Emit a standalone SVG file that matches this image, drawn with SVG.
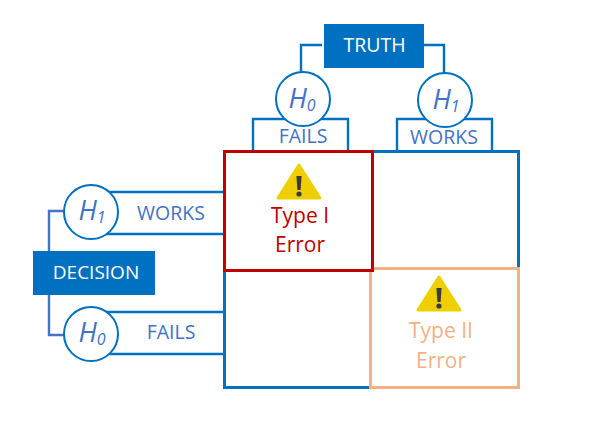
<svg xmlns="http://www.w3.org/2000/svg" width="589" height="448" viewBox="0 0 589 448">
<style>
text{font-family:"Open Sans","Noto Sans","DejaVu Sans",sans-serif;text-anchor:middle}
.b{fill:none;stroke:#0070c0;stroke-width:2.400}
.g{fill:#fff;stroke:#0070c0;stroke-width:2}
.box{fill:#0070c0}
.w{fill:#fff;font-size:19px}
.l{fill:#4472c4;font-size:19.500px}
.h{fill:#4472c4;font-size:27px;font-style:italic}
.s{font-size:16px}
.e{font-size:21px}
</style>
<defs>
<g id="warn"><path d="M0 0L21 33H-21Z" fill="#f0cf00" stroke="#f0cf00" stroke-width="3" stroke-linejoin="round"/><path d="M-2.600 11H2.600L1.600 25H-1.600Z" fill="#3a3a3a"/><circle cy="29" r="2.600" fill="#3a3a3a"/></g>
</defs>
<rect width="589" height="448" fill="#fff"/>
<g id="connectors">
<path class="b" d="M322 45H301V74"/>
<path class="b" d="M424 45H444V74"/>
<path class="b" d="M253 150V119H348V150"/>
<path class="b" d="M397 150V119H492V150"/>
<path d="M64 211H49V251M49 295V335H64" fill="none" stroke="#4472c4" stroke-width="2.400"/>
<path class="b" d="M105 192H224M105 234H224M105 312H224M105 354H224"/>
</g>
<g id="grid"><rect x="224.500" y="151.500" width="294" height="236" fill="none" stroke="#0070c0" stroke-width="3"/></g>
<g id="truth"><rect class="box" x="324" y="24" width="100" height="44"/><text class="w" x="374.500" y="52" style="font-size:19.500px">TRUTH</text></g>
<g id="truth-h0"><circle class="g" cx="303" cy="99" r="27"/><text class="h" x="302" y="108">H<tspan class="s" dy="3">0</tspan></text></g>
<g id="truth-h1"><circle class="g" cx="445" cy="100" r="27"/><text class="h" x="446" y="109">H<tspan class="s" dy="3">1</tspan></text></g>
<g id="fails-top"><text class="l" x="303" y="143">FAILS</text></g>
<g id="works-top"><text class="l" x="444" y="144">WORKS</text></g>
<g id="decision"><rect class="box" x="33" y="251" width="122" height="44"/><text class="w" x="96" y="279">DECISION</text></g>
<g id="decision-h1"><circle class="g" cx="91" cy="212" r="27"/><text class="h" x="92" y="220">H<tspan class="s" dy="3">1</tspan></text></g>
<g id="decision-h0"><circle class="g" cx="91" cy="334" r="27"/><text class="h" x="92" y="342">H<tspan class="s" dy="3">0</tspan></text></g>
<g id="works-left"><text class="l" x="171" y="220">WORKS</text></g>
<g id="fails-left"><text class="l" x="171" y="339">FAILS</text></g>
<g id="type2"><rect x="370.500" y="268.500" width="148" height="119" fill="#fff" stroke="#f4b183" stroke-width="3"/><use href="#warn" x="439" y="277"/><text class="e" x="441" y="338" fill="#f4b183">Type II</text><text class="e" x="441" y="368" fill="#f4b183">Error</text></g>
<g id="type1"><rect x="224.500" y="151.500" width="148" height="119" fill="#fff" stroke="#c00000" stroke-width="3"/><use href="#warn" x="299" y="165"/><text class="e" x="300" y="223" fill="#c00000">Type I</text><text class="e" x="300" y="252" fill="#c00000">Error</text></g>
</svg>
